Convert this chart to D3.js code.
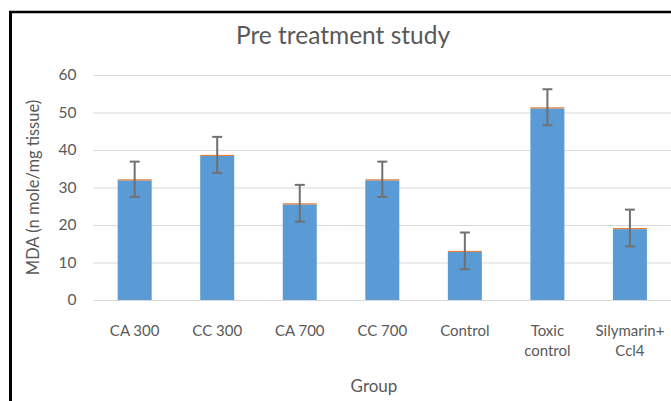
<!DOCTYPE html>
<html>
<head>
<meta charset="utf-8">
<script src="https://cdn.jsdelivr.net/npm/d3@7"></script>
<style>
  html, body { margin: 0; padding: 0; background: #fff; }
  svg { display: block; }
  text { font-family: Lato, "Open Sans", sans-serif; fill: #595959; }
</style>
</head>
<body>
<svg id="chart" width="671" height="401"></svg>
<script>
// ---- data ----
const categories = ["CA 300", "CC 300", "CA 700", "CC 700", "Control", "Toxic control", "Silymarin+ Ccl4"];
const categoryLines = [["CA 300"], ["CC 300"], ["CA 700"], ["CC 700"], ["Control"], ["Toxic", "control"], ["Silymarin+", "Ccl4"]];
const meanValues = [31.9, 38.4, 25.5, 31.9, 12.8, 51.1, 18.9];
const stackedSmall = [0.3, 0.3, 0.3, 0.3, 0.3, 0.3, 0.3];
const errorValues = [4.7, 4.8, 4.9, 4.7, 4.9, 4.8, 4.9];
const yTicks = [0, 10, 20, 30, 40, 50, 60];
const titleText = "Pre treatment study";
const yTitle = "MDA (n mole/mg tissue)";
const xTitle = "Group";

const svg = d3.select("#chart");
const W = 671, H = 401;
svg.append("rect").attr("width", W).attr("height", H).attr("fill", "#fff");

const plot = { left: 93.4, right: 671.2, top: 75, bottom: 300 };

const x = d3.scaleBand().domain(categories).range([plot.left, plot.right])
  .paddingInner(0.588).paddingOuter(0.294);
const y = d3.scaleLinear().domain([0, 60]).range([plot.bottom, plot.top]);

// gridlines + y labels
const yAxis = d3.axisLeft(y).tickValues(yTicks).tickSize(-(plot.right - plot.left)).tickPadding(17);
const gy = svg.append("g").attr("transform", `translate(${plot.left},0)`).call(yAxis);
gy.select(".domain").remove();
gy.selectAll(".tick line").attr("stroke", "#d9d9d9").attr("stroke-width", 1);
gy.selectAll(".tick text").attr("font-size", 15.5).attr("fill", "#595959")
  .style("font-family", "Lato, 'Open Sans', sans-serif");

// bars
const data = categories.map((c, i) => ({ c, v: meanValues[i], s: stackedSmall[i], e: errorValues[i] }));
svg.append("g").selectAll("rect").data(data).join("rect")
  .attr("x", d => x(d.c)).attr("width", x.bandwidth())
  .attr("y", d => y(d.v)).attr("height", d => y(0) - y(d.v))
  .attr("fill", "#5b9bd5");
svg.append("g").selectAll("rect").data(data).join("rect")
  .attr("x", d => x(d.c)).attr("width", x.bandwidth())
  .attr("y", d => y(d.v + d.s)).attr("height", d => y(d.v) - y(d.v + d.s))
  .attr("fill", "#ed7d31");

// error bars
const eg = svg.append("g").attr("stroke", "#707070").attr("stroke-width", 2);
data.forEach(d => {
  const cx = x(d.c) + x.bandwidth() / 2;
  const top = d.v + d.s;
  eg.append("line").attr("x1", cx).attr("x2", cx).attr("y1", y(top + d.e)).attr("y2", y(top - d.e));
  eg.append("line").attr("x1", cx - 5).attr("x2", cx + 5).attr("y1", y(top + d.e)).attr("y2", y(top + d.e));
  eg.append("line").attr("x1", cx - 5).attr("x2", cx + 5).attr("y1", y(top - d.e)).attr("y2", y(top - d.e));
});

// x axis labels
const xAxis = d3.axisBottom(x).tickSize(0).tickPadding(0);
const gx = svg.append("g").attr("transform", `translate(0,${plot.bottom})`).call(xAxis);
gx.select(".domain").remove();
gx.selectAll(".tick text").each(function(d, i) {
  const t = d3.select(this);
  t.text(null).attr("y", 0).attr("dy", null).attr("font-size", 15)
    .style("font-family", "Lato, 'Open Sans', sans-serif").attr("fill", "#595959");
  categoryLines[i].forEach((ln, k) => {
    t.append("tspan").attr("x", 0).attr("y", 35.5 + k * 20.5).text(ln);
  });
});

// titles
svg.append("text").attr("x", 343).attr("y", 43.5).attr("text-anchor", "middle")
  .attr("font-size", 24.5).text(titleText);
svg.append("text").attr("transform", `translate(39,187.5) rotate(-90)`)
  .attr("text-anchor", "middle").attr("font-size", 16.5).text(yTitle);
svg.append("text").attr("x", 374).attr("y", 392).attr("text-anchor", "middle")
  .attr("font-size", 17).text(xTitle);

// outer border (partially visible)
svg.append("line").attr("x1", 10.5).attr("x2", 10.5).attr("y1", 11).attr("y2", H + 5)
  .attr("stroke", "#000").attr("stroke-width", 3);
svg.append("line").attr("x1", 9).attr("x2", W + 5).attr("y1", 12).attr("y2", 12)
  .attr("stroke", "#000").attr("stroke-width", 2.5);
</script>
</body>
</html>
